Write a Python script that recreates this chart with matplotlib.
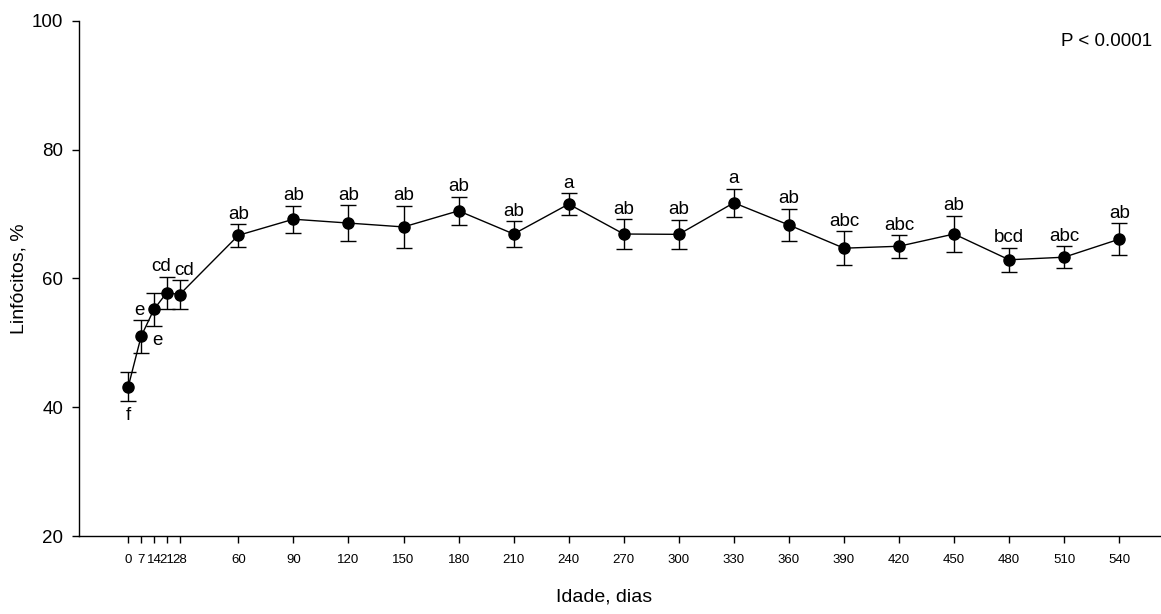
import matplotlib
matplotlib.use("Agg")
import matplotlib.pyplot as plt

plt.rcParams['font.family'] = ['Liberation Sans', 'DejaVu Sans']

# idade (dias), média de linfócitos (%), erro padrão e letras
dias = [0, 7, 14, 21, 28, 60, 90, 120, 150, 180, 210, 240, 270, 300, 330,
        360, 390, 420, 450, 480, 510, 540]
media = [43.2, 51.0, 55.2, 57.8, 57.5, 66.7, 69.2, 68.6, 68.0, 70.5, 66.9,
         71.55, 66.9, 66.85, 71.75, 68.3, 64.7, 65.0, 66.9, 62.9, 63.3, 66.1]
ep = [2.3, 2.5, 2.6, 2.5, 2.2, 1.75, 2.1, 2.75, 3.3, 2.2, 1.95, 1.7, 2.3,
      2.25, 2.2, 2.55, 2.6, 1.75, 2.85, 1.9, 1.75, 2.45]
letras = ['f', 'e', 'e', 'cd', 'cd', 'ab', 'ab', 'ab', 'ab', 'ab', 'ab', 'a',
          'ab', 'ab', 'a', 'ab', 'abc', 'abc', 'ab', 'bcd', 'abc', 'ab']

fig = plt.figure(figsize=(11.61, 6.14), dpi=100)
ax = fig.add_axes([0.0678, 0.127, 0.931, 0.839])

ax.errorbar(dias, media, yerr=ep, fmt='o-', color='black', ms=8, lw=1,
            elinewidth=1, capsize=5.5, capthick=1)

# letras acima ou abaixo das barras
for i, (d, m, e, l) in enumerate(zip(dias, media, ep, letras)):
    if i in (0, 2):
        dx = 2.5 if i == 2 else 0
        ax.annotate(l, xy=(d, m - e), xytext=(dx, -4), textcoords='offset points',
                    ha='center', va='top', fontsize=13.5)
    else:
        dx = {3: -4, 4: 3.5, 1: -1}.get(i, 0)
        ax.annotate(l, xy=(d, m + e), xytext=(dx, 1), textcoords='offset points',
                    ha='center', va='bottom', fontsize=13.5)

ax.set_xlim(-27, 562)
ax.set_ylim(20, 100)
ax.set_xticks(dias)
ax.set_xticklabels([str(d) for d in dias], fontsize=9.5)
ax.set_yticks([20, 40, 60, 80, 100])
ax.tick_params(axis='y', labelsize=13.5, length=5, width=1, pad=6)
ax.tick_params(axis='x', length=5, width=1, pad=8)

for s in ['top', 'right']:
    ax.spines[s].set_visible(False)
for s in ['left', 'bottom']:
    ax.spines[s].set_linewidth(1)

ax.set_xlabel('Idade, dias', fontsize=14)
ax.xaxis.set_label_coords(0.486, -0.102)
ax.set_ylabel('Linfócitos, %', fontsize=14, labelpad=3)

ax.text(0.993, 0.96, 'P < 0.0001', transform=ax.transAxes, ha='right',
        va='center', fontsize=13.5)

fig.savefig('out.png', dpi=100)
